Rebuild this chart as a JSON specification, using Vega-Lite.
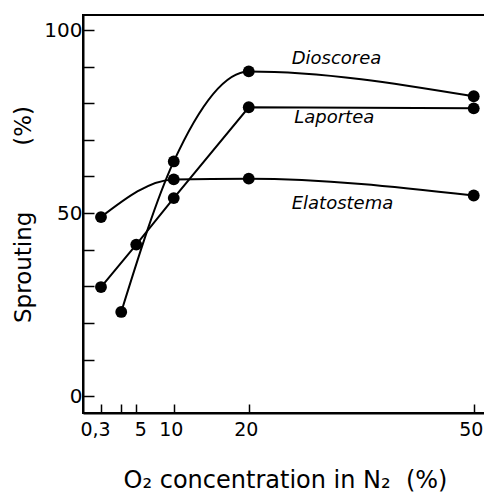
{
  "$schema": "https://vega.github.io/schema/vega-lite/v6.json",
  "autosize": {"type": "none"},
  "padding": {"left": 83, "top": 15, "right": 0, "bottom": 84},
  "width": 404,
  "height": 398,
  "background": "white",
  "config": {
    "view": {"stroke": "black", "strokeWidth": 2},
    "axis": {
      "grid": false,
      "domainColor": "black",
      "domainWidth": 2,
      "tickColor": "black",
      "tickWidth": 1.5,
      "labelColor": "black",
      "titleColor": "black",
      "labelFont": "DejaVu Sans",
      "titleFont": "DejaVu Sans",
      "titleFontWeight": "normal"
    }
  },
  "datasets": {
    "pts": [
      {"species": "Dioscorea", "o2": 3, "sprouting": 23.0},
      {"species": "Dioscorea", "o2": 10, "sprouting": 64.1},
      {"species": "Dioscorea", "o2": 20, "sprouting": 88.7},
      {"species": "Dioscorea", "o2": 50, "sprouting": 81.9},
      {"species": "Laportea", "o2": 0.3, "sprouting": 29.8},
      {"species": "Laportea", "o2": 5, "sprouting": 41.4},
      {"species": "Laportea", "o2": 10, "sprouting": 54.1},
      {"species": "Laportea", "o2": 20, "sprouting": 78.9},
      {"species": "Laportea", "o2": 50, "sprouting": 78.6},
      {"species": "Elatostema", "o2": 0.3, "sprouting": 48.9},
      {"species": "Elatostema", "o2": 10, "sprouting": 59.2},
      {"species": "Elatostema", "o2": 20, "sprouting": 59.4},
      {"species": "Elatostema", "o2": 50, "sprouting": 54.8}
    ],
    "labels": [
      {"species": "Dioscorea", "o2": 31.7, "sprouting": 92.1},
      {"species": "Laportea", "o2": 31.4, "sprouting": 76.1},
      {"species": "Elatostema", "o2": 32.5, "sprouting": 52.6}
    ]
  },
  "encoding": {
    "x": {
      "field": "o2", "type": "quantitative",
      "scale": {"domain": [-2.1, 51.77], "nice": false, "zero": false},
      "axis": {
        "values": [0.3, 3, 5, 10, 20, 50],
        "labelExpr": "datum.value == 0.3 ? '0,3' : (datum.value == 3 ? '' : datum.label)",
        "tickSize": -9,
        "labelPadding": 16,
        "labelOffset": {"condition": [{"test": "datum.value == 0.3", "value": -6}, {"test": "datum.value == 5", "value": 4}], "value": -3},
        "labelFontSize": 19,
        "title": "O₂ concentration in N₂\u00a0\u00a0(%)",
        "titleFontSize": 24,
        "titlePadding": 29
      }
    },
    "y": {
      "field": "sprouting", "type": "quantitative",
      "scale": {"domain": [-4.6, 104.1], "nice": false, "zero": false},
      "axis": {
        "values": [0, 10, 20, 30, 40, 50, 60, 70, 80, 90, 100],
        "labelExpr": "datum.value % 50 == 0 ? datum.label : ''",
        "tickSize": -11,
        "labelPadding": 12,
        "labelFontSize": 20,
        "title": "Sprouting\u00a0\u00a0\u00a0\u00a0\u00a0\u00a0\u00a0\u00a0\u00a0(%)",
        "titleFontSize": 23,
        "titlePadding": 8
      }
    }
  },
  "layer": [
    {
      "data": {"name": "pts"},
      "transform": [{"filter": "datum.species == 'Dioscorea'"}],
      "mark": {"type": "line", "interpolate": "monotone", "color": "black", "strokeWidth": 2},
      "encoding": {}
    },
    {
      "data": {"name": "pts"},
      "transform": [{"filter": "datum.species == 'Laportea'"}],
      "mark": {"type": "line", "interpolate": "linear", "color": "black", "strokeWidth": 2},
      "encoding": {}
    },
    {
      "data": {"name": "pts"},
      "transform": [{"filter": "datum.species == 'Elatostema'"}],
      "mark": {"type": "line", "interpolate": "monotone", "color": "black", "strokeWidth": 2},
      "encoding": {}
    },
    {
      "data": {"name": "pts"},
      "mark": {"type": "circle", "color": "black", "opacity": 1, "size": 140},
      "encoding": {}
    },
    {
      "data": {"name": "labels"},
      "mark": {"type": "text", "font": "DejaVu Sans", "fontStyle": "italic", "fontSize": 18, "color": "black", "align": "center", "baseline": "middle"},
      "encoding": {"text": {"field": "species"}}
    }
  ]
}
